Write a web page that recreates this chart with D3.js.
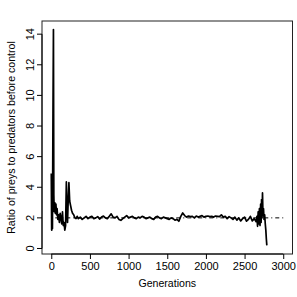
<!DOCTYPE html>
<html>
<head>
<meta charset="utf-8">
<script src="https://cdn.jsdelivr.net/npm/d3@7"></script>
<style>
  body { margin: 0; background: #fff; }
  text { font-family: "Liberation Sans", Arial, sans-serif; fill: #000; }
</style>
</head>
<body>
<svg id="chart" width="297" height="297"></svg>
<script>
// [generation, ratio]
const burnIn = [
  [0, 4.9], [5, 1.2], [10, 3.0], [15, 1.3], [22, 8.8], [28, 14.3], [33, 3.5], [38, 2.4],
  [45, 3.0], [52, 2.3], [60, 2.9], [68, 2.2], [75, 2.6], [85, 1.9], [95, 2.2], [105, 1.7],
  [115, 2.3], [125, 2.0], [135, 1.6], [145, 2.4], [155, 1.5], [165, 1.7], [175, 1.2],
  [185, 1.5], [195, 4.35], [203, 2.6], [210, 1.7], [218, 3.0], [228, 4.3], [238, 3.1],
  [250, 2.8], [262, 2.5], [275, 2.3], [290, 2.2], [305, 2.0], [320, 1.95], [335, 2.1]
];
const plateau = [
  [350, 1.95], [375, 2.05], [400, 1.9], [425, 2.0], [450, 2.1], [475, 1.95], [500, 2.05],
  [525, 2.1], [550, 1.95], [575, 2.0], [600, 2.08], [625, 1.92], [650, 2.05], [675, 2.12],
  [700, 2.0], [725, 1.95], [750, 2.1], [775, 2.26], [800, 2.05], [825, 2.0], [850, 2.1],
  [875, 1.9], [900, 1.84], [925, 1.95], [950, 2.05], [975, 2.15], [1000, 2.0],
  [1025, 2.05], [1050, 2.1], [1075, 2.0], [1100, 1.95], [1125, 2.05], [1150, 2.0],
  [1175, 2.1], [1200, 2.05], [1225, 1.95], [1250, 2.0], [1275, 2.05], [1300, 1.95],
  [1325, 1.9], [1350, 2.05], [1375, 2.1], [1400, 2.0], [1425, 1.95], [1450, 2.05],
  [1475, 2.0], [1500, 1.95], [1525, 1.9], [1550, 2.0], [1575, 1.95], [1600, 1.85],
  [1625, 1.9], [1650, 1.78], [1675, 2.1], [1700, 2.32], [1725, 2.15], [1750, 2.05],
  [1775, 2.12], [1800, 2.08], [1825, 2.1], [1850, 2.0], [1875, 2.12], [1900, 2.05],
  [1925, 2.1], [1950, 2.15], [1975, 2.05], [2000, 2.1], [2025, 2.12], [2050, 2.08],
  [2075, 2.1], [2100, 2.05], [2125, 2.12], [2150, 2.1], [2175, 2.08], [2200, 2.2],
  [2225, 2.05], [2250, 2.1], [2275, 1.95], [2300, 2.08], [2325, 2.0], [2350, 1.9],
  [2375, 2.05], [2400, 1.85], [2425, 2.0], [2450, 1.8], [2475, 1.95], [2500, 2.05],
  [2525, 1.78], [2550, 1.9], [2575, 2.1], [2600, 1.8], [2625, 1.95], [2650, 1.75]
];
const collapse = [
  [2660, 2.1], [2668, 1.45], [2676, 2.4], [2684, 1.6], [2692, 2.6], [2700, 1.5],
  [2708, 2.9], [2714, 1.7], [2720, 3.2], [2726, 2.0], [2732, 3.63], [2738, 2.2],
  [2745, 2.6], [2752, 1.9], [2760, 2.2], [2768, 1.6], [2775, 1.2], [2782, 0.6], [2788, 0.2]
];
const controlLevel = 2;
const xTicks = [0, 500, 1000, 1500, 2000, 2500, 3000];
const yTicks = [0, 2, 4, 6, 8, 10, 12, 14];

const series = burnIn.concat(plateau, collapse);

const svg = d3.select('#chart');
const box = { left: 42, top: 21, right: 292.5, bottom: 254 };

// R pads the data range by 4% on each side
const x = d3.scaleLinear().domain([-120, 3120]).range([box.left, box.right]);
const y = d3.scaleLinear().domain([-0.36, 14.86]).range([box.bottom, box.top]);

// reference level, dot-dash
svg.append('line')
  .attr('x1', x(0)).attr('x2', x(3000))
  .attr('y1', y(controlLevel)).attr('y2', y(controlLevel))
  .attr('stroke', '#000')
  .attr('stroke-width', 1)
  .attr('stroke-dasharray', '1,3,4,3');

svg.append('path')
  .datum(series)
  .attr('fill', 'none')
  .attr('stroke', '#000')
  .attr('stroke-width', 1.7)
  .attr('stroke-linejoin', 'round')
  .attr('d', d3.line().x(d => x(d[0])).y(d => y(d[1])));

svg.append('rect')
  .attr('x', box.left).attr('y', box.top)
  .attr('width', box.right - box.left).attr('height', box.bottom - box.top)
  .attr('fill', 'none')
  .attr('stroke', '#222');

// x axis
const xAxis = svg.append('g')
  .attr('transform', `translate(0,${box.bottom})`)
  .call(d3.axisBottom(x).tickValues(xTicks).tickFormat(d3.format('d'))
    .tickSize(5).tickPadding(3).tickSizeOuter(0));
xAxis.select('.domain').attr('d', `M${x(0)},0H${x(3000)}`);
xAxis.selectAll('text').style('font-size', '11px');

// y axis
const yAxis = svg.append('g')
  .attr('transform', `translate(${box.left},0)`)
  .call(d3.axisLeft(y).tickValues(yTicks).tickSize(5).tickSizeOuter(0));
yAxis.select('.domain').attr('d', `M0,${y(0)}V${y(14)}`);
yAxis.selectAll('text')
  .style('font-size', '11px')
  .attr('text-anchor', 'middle')
  .attr('dy', null)
  .attr('x', null)
  .attr('transform', d => `translate(-8,${y(d)}) rotate(-90)`)
  .attr('y', 0);
yAxis.selectAll('.tick').attr('transform', null);
yAxis.selectAll('.tick line').attr('transform', d => `translate(0,${y(d)})`);

svg.append('text')
  .attr('x', (box.left + box.right) / 2)
  .attr('y', 287)
  .attr('text-anchor', 'middle')
  .style('font-size', '10.6px')
  .text('Generations');

svg.append('text')
  .attr('transform', `translate(15,${(box.top + box.bottom) / 2}) rotate(-90)`)
  .attr('text-anchor', 'middle')
  .style('font-size', '10.6px')
  .text('Ratio of preys to predators before control');
</script>
</body>
</html>
